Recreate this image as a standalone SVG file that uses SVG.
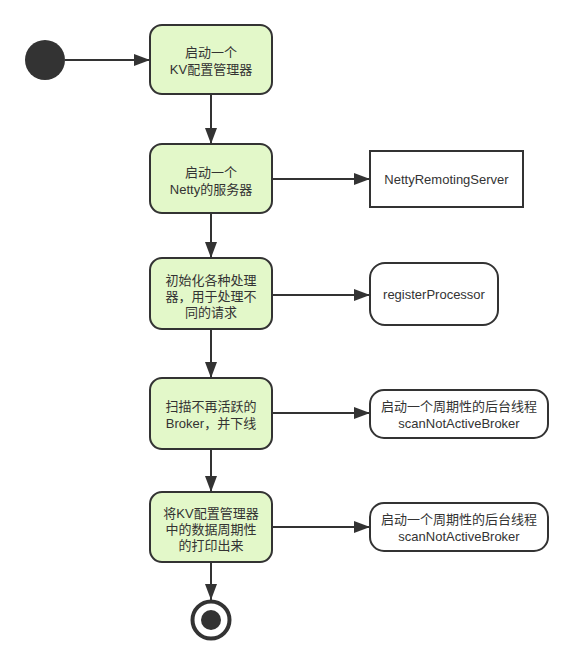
<svg xmlns="http://www.w3.org/2000/svg" width="573" height="665" viewBox="0 0 573 665">
<defs>
<style>
.act{fill:#e3f8c9;stroke:#333;stroke-width:2}
.box{fill:#fff;stroke:#333;stroke-width:2}
.t{font-family:"Liberation Sans","Noto Sans CJK SC",sans-serif;font-size:13px;fill:#333;text-anchor:middle}
.c{stroke:#333;stroke-width:2;fill:none}
</style>
<marker id="ah" viewBox="0 0 16 12" refX="16" refY="6" markerWidth="16" markerHeight="12" markerUnits="userSpaceOnUse" orient="auto">
<path d="M0,0 L16,6 L0,12 Z" fill="#333"/>
</marker>
</defs>
<rect width="573" height="665" fill="#fff"/>
<g id="start"><circle cx="45" cy="60" r="20" fill="#333"/></g>
<g id="n1"><rect class="act" x="150" y="25" width="122" height="69" rx="12"/>
<text class="t" x="211" y="57">启动一个</text><text class="t" x="211" y="74">KV配置管理器</text></g>
<g id="n2"><rect class="act" x="150" y="144" width="122" height="69" rx="12"/>
<text class="t" x="211" y="177">启动一个</text><text class="t" x="211" y="194">Netty的服务器</text></g>
<g id="n3"><rect class="act" x="150" y="258" width="122" height="71" rx="12"/>
<text class="t" x="211" y="285">初始化各种处理</text><text class="t" x="211" y="301">器，用于处理不</text><text class="t" x="211" y="317">同的请求</text></g>
<g id="n4"><rect class="act" x="150" y="378" width="122" height="71" rx="12"/>
<text class="t" x="211" y="411">扫描不再活跃的</text><text class="t" x="211" y="428">Broker，并下线</text></g>
<g id="n5"><rect class="act" x="150" y="492" width="122" height="70" rx="12"/>
<text class="t" x="211" y="518">将KV配置管理器</text><text class="t" x="211" y="534">中的数据周期性</text><text class="t" x="211" y="550">的打印出来</text></g>
<g id="r1"><rect class="box" x="370" y="151" width="153" height="56"/>
<text class="t" x="446.5" y="184">NettyRemotingServer</text></g>
<g id="r2"><rect class="box" x="370" y="263" width="128" height="62" rx="15"/>
<text class="t" x="434" y="299">registerProcessor</text></g>
<g id="r3"><rect class="box" x="370" y="390" width="178" height="48" rx="14"/>
<text class="t" x="459" y="411">启动一个周期性的后台线程</text><text class="t" x="459" y="428">scanNotActiveBroker</text></g>
<g id="r4"><rect class="box" x="370" y="503" width="178" height="48" rx="14"/>
<text class="t" x="459" y="524">启动一个周期性的后台线程</text><text class="t" x="459" y="541">scanNotActiveBroker</text></g>
<g id="end"><circle cx="211" cy="620" r="18.5" fill="#fff" stroke="#333" stroke-width="4"/><circle cx="211" cy="620" r="10" fill="#333"/></g>
<g id="connectors">
<line class="c" x1="65" y1="60" x2="150" y2="60" marker-end="url(#ah)"/>
<line class="c" x1="211" y1="94" x2="211" y2="144" marker-end="url(#ah)"/>
<line class="c" x1="211" y1="213" x2="211" y2="258" marker-end="url(#ah)"/>
<line class="c" x1="211" y1="329" x2="211" y2="378" marker-end="url(#ah)"/>
<line class="c" x1="211" y1="449" x2="211" y2="492" marker-end="url(#ah)"/>
<line class="c" x1="211" y1="562" x2="211" y2="600" marker-end="url(#ah)"/>
<line class="c" x1="272" y1="179" x2="370" y2="179" marker-end="url(#ah)"/>
<line class="c" x1="272" y1="295" x2="370" y2="295" marker-end="url(#ah)"/>
<line class="c" x1="272" y1="413" x2="370" y2="413" marker-end="url(#ah)"/>
<line class="c" x1="272" y1="527" x2="370" y2="527" marker-end="url(#ah)"/>
</g>
</svg>
